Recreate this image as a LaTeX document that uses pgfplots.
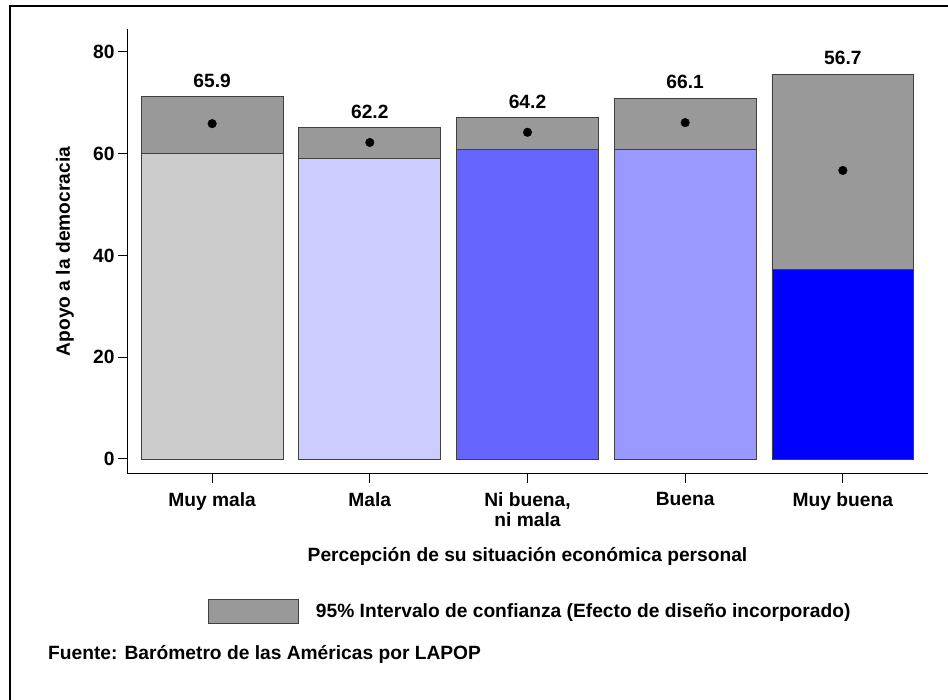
\documentclass[border=0pt]{standalone}
\usepackage{pgfplots}
\pgfplotsset{compat=1.18}
\usepackage{pgfplotstable}
\usepackage{fontspec}
\setmainfont{Liberation Sans}
\definecolor{cMM}{HTML}{CCCCCC}
\definecolor{cM}{HTML}{CCCCFF}
\definecolor{cN}{HTML}{6666FF}
\definecolor{cB}{HTML}{9999FF}
\definecolor{cMB}{HTML}{0000FF}
\definecolor{ci}{HTML}{999999}
\definecolor{edge}{HTML}{404040}
\newcommand\ff{\fontsize{19.2}{20}\selectfont\bfseries}

\pgfplotstableread{
x lower upper mean
0 60.0 71.2 65.9
1 59.0 65.1 62.2
2 60.9 67.1 64.2
3 60.9 70.9 66.1
4 37.3 75.6 56.7
}\data

\begin{document}
\begin{tikzpicture}[x=1pt,y=1pt]
\useasboundingbox (0,0) rectangle (948,700);
\draw[line width=2pt] (10,0) -- (10,694) -- (948,694);
\node[anchor=base west, inner sep=0pt, font=\ff] at (48,40) {Fuente: Barómetro de las Américas por LAPOP};
\begin{axis}[
  at={(127pt,226pt)}, anchor=south west, scale only axis,
  width=801pt, height=445pt,
  xmin=-0.54, xmax=4.54, ymin=-2.95, ymax=84.5,
  axis x line*=bottom, axis y line*=left,
  axis line style={-, line width=1pt, black},
  xtick={0,1,2,3,4},
  xticklabels={Muy mala, Mala, {Ni buena,\\ni mala}, Buena, Muy buena},
  ytick={0,20,40,60,80},
  tick align=outside, major tick length=9pt,
  tick style={black, line width=1pt},
  xticklabel style={align=center, font=\ff, yshift=-6pt},
  yticklabel style={font=\ff},
  /pgf/number format/assume math mode=true,
  every axis y label/.style={at={(axis description cs:-0.0774,0.5)}, rotate=90, anchor=center, font=\ff},
  every axis x label/.style={at={(axis description cs:0.5,-0.1858)}, anchor=center, font=\ff},
  ylabel={Apoyo a la democracia},
  xlabel={Percepción de su situación económica personal},
  legend style={at={(axis description cs:0.1011,-0.3079)}, anchor=west, draw=none, fill=none, inner sep=0pt, font=\ff},
  legend cell align=left,
  clip=false,
]
\addplot[ybar, bar width=0.9, bar shift=0pt, fill=ci, draw=edge, line width=0.8pt,
  area legend,
  legend image code/.code={\draw[fill=ci, draw=edge, line width=0.8pt] (0pt,-12pt) rectangle (90pt,12pt); \path (105pt,0pt);},
  point meta=explicit, nodes near coords,
  nodes near coords style={anchor=center, yshift=16pt, font=\ff, text=black,
    /pgf/number format/fixed, /pgf/number format/fixed zerofill, /pgf/number format/precision=1}]
  table[x=x, y=upper, meta=mean]{\data};
\addlegendentry{95\% Intervalo de confianza (Efecto de diseño incorporado)}
\addplot[ybar, bar width=0.9, bar shift=0pt, fill=cMM, draw=edge, line width=0.8pt, forget plot,
  skip coords between index={1}{5}] table[x=x, y=lower]{\data};
\addplot[ybar, bar width=0.9, bar shift=0pt, fill=cM, draw=edge, line width=0.8pt, forget plot,
  skip coords between index={0}{1}, skip coords between index={2}{5}] table[x=x, y=lower]{\data};
\addplot[ybar, bar width=0.9, bar shift=0pt, fill=cN, draw=edge, line width=0.8pt, forget plot,
  skip coords between index={0}{2}, skip coords between index={3}{5}] table[x=x, y=lower]{\data};
\addplot[ybar, bar width=0.9, bar shift=0pt, fill=cB, draw=edge, line width=0.8pt, forget plot,
  skip coords between index={0}{3}, skip coords between index={4}{5}] table[x=x, y=lower]{\data};
\addplot[ybar, bar width=0.9, bar shift=0pt, fill=cMB, draw=edge, line width=0.8pt, forget plot,
  skip coords between index={0}{4}] table[x=x, y=lower]{\data};
\addplot[only marks, mark=*, mark size=4.3pt, black, forget plot] table[x=x, y=mean]{\data};
\end{axis}
\end{tikzpicture}
\end{document}
